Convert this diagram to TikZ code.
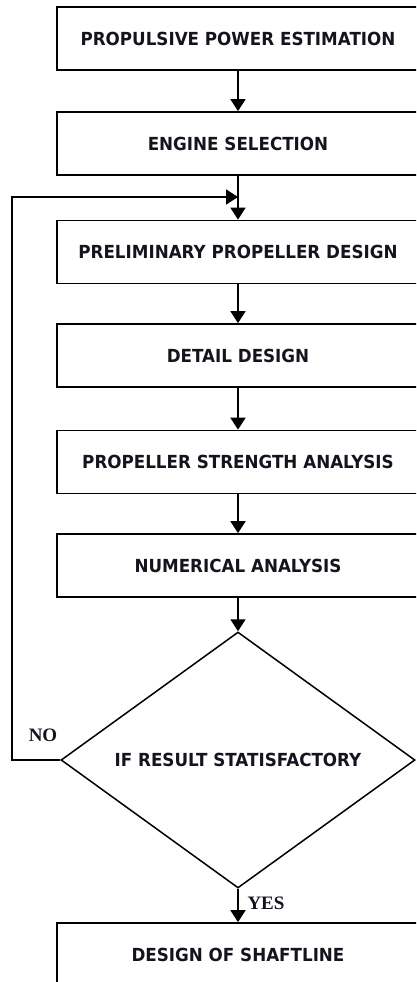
\documentclass[tikz,border=0pt]{standalone}
\usepackage{fontspec}
\setmainfont{DejaVu Sans}[FakeStretch=0.93]
\newfontfamily\yesnofont{Liberation Serif}
\usetikzlibrary{shapes.geometric,arrows.meta}
\definecolor{ink}{RGB}{20,20,30}
\begin{document}
\begin{tikzpicture}[x=1pt,y=-1pt,
  box/.style={draw, line width=1.7pt, minimum width=362pt, minimum height=63pt, inner sep=0pt,
    font=\fontsize{18}{19}\selectfont\bfseries, text=ink},
  decision/.style={draw, shape=diamond, shape aspect=1.38, line width=1.5pt, minimum width=354pt, minimum height=256pt,
    inner sep=0pt, font=\fontsize{18}{19}\selectfont\bfseries, text=ink},
  arr/.style={-{Triangle[width=15pt,length=12pt]}, line width=1.7pt},
  lbl/.style={font=\yesnofont\fontsize{19}{20}\selectfont\bfseries, text=ink, inner sep=0pt}]
\useasboundingbox (0,0) rectangle (416,982);
\clip (0,0) rectangle (416,982);
\node[box] (b1) at (238,38.5) {PROPULSIVE POWER ESTIMATION};
\node[box] (b2) at (238,143.5) {ENGINE SELECTION};
\node[box] (b3) at (238,252) {PRELIMINARY PROPELLER DESIGN};
\node[box] (b4) at (238,355.5) {DETAIL DESIGN};
\node[box] (b5) at (238,462) {PROPELLER STRENGTH ANALYSIS};
\node[box] (b6) at (238,565.5) {NUMERICAL ANALYSIS};
\node[decision] (d) at (238,760) {IF RESULT STATISFACTORY};
\node[box] (b7) at (238,954.5) {DESIGN OF SHAFTLINE};
\coordinate (nocorner) at (12,760);
\coordinate (fbend) at (238,197);
\draw[arr] (b1.south) -- (b2.north);
\draw[arr] (b2.south) -- (b3.north);
\draw[arr] (b3.south) -- (b4.north);
\draw[arr] (b4.south) -- (b5.north);
\draw[arr] (b5.south) -- (b6.north);
\draw[arr] (b6.south) -- (d.north);
\draw[arr] (d.south) -- (b7.north);
\draw[arr] (d.west) -- (nocorner) |- (fbend);
\node[lbl] (no) at (43,735) {NO};
\node[lbl] (yes) at (266,903) {YES};
\end{tikzpicture}
\end{document}
